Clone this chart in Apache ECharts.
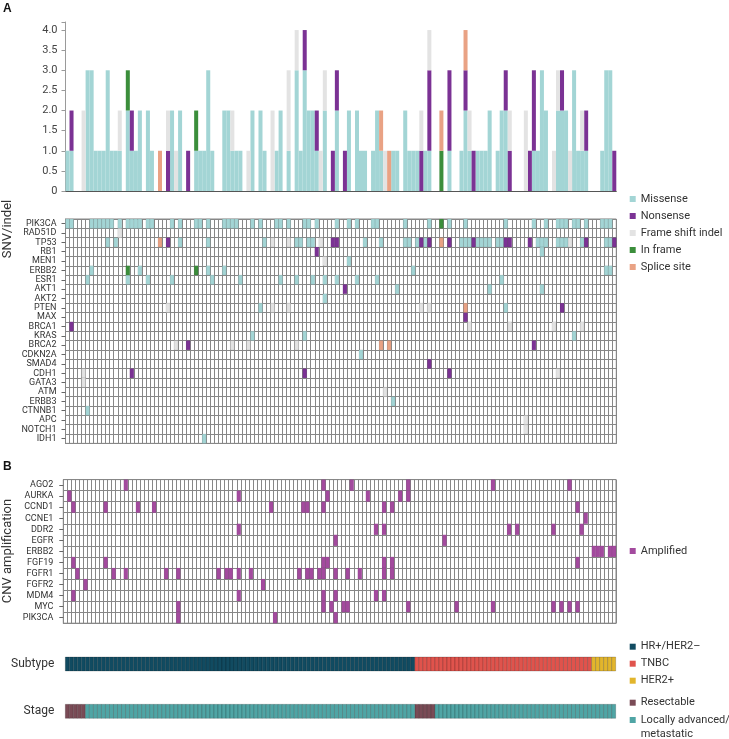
<!DOCTYPE html>
<html>
<head>
<meta charset="utf-8">
<script src="https://cdn.jsdelivr.net/npm/echarts@6.0.0/dist/echarts.min.js"></script>
<style>
html,body{margin:0;padding:0;background:#fff;}
#chart{width:729px;height:739px;}
</style>
</head>
<body>
<div id="chart"></div>
<script>
// ================= DATA =================
const sampleCount = 137;
const samples = Array.from({length: sampleCount}, (_, i) => 'P' + String(i + 1).padStart(3, '0'));

const mutTypes = ['Missense', 'Nonsense', 'Frame shift indel', 'In frame', 'Splice site'];
const mutCodes = ['M', 'N', 'F', 'I', 'S'];

const snvGenes = ['PIK3CA','RAD51D','TP53','RB1','MEN1','ERBB2','ESR1','AKT1','AKT2','PTEN','MAX','BRCA1',
  'KRAS','BRCA2','CDKN2A','SMAD4','CDH1','GATA3','ATM','ERBB3','CTNNB1','APC','NOTCH1','IDH1'];

// SNV/indel calls: sample column indices per mutation type
// M = Missense, N = Nonsense, F = Frame shift indel, I = In frame, S = Splice site
const snvPIK3CA = {M: [0,1,6,7,8,9,10,11,13,15,16,17,18,20,21,26,28,32,33,35,39,40,41,42,46,48,52,53,55,59,60,62,67,70,72,76,77,84,90,95,99,109,116,119,122,123,124,126,127,129,133,134,135], I: [93]};
const snvRAD51D = {F: [13]};
const snvTP53 = {M: [10,12,28,35,49,57,58,60,61,74,78,84,85,87,89,98,99,100,102,103,104,105,107,108,117,118,119,122,123,124,128,134,135],
                 N: [25,66,67,88,90,95,101,109,110,115,129,136], F: [51,55,63,125], S: [23,93]};
const snvRB1 = {N: [62], M: [118]};
const snvMEN1 = {F: [64], M: [70]};
const snvERBB2 = {M: [6,18,35,39,86,134,135], I: [15,32]};
const snvESR1 = {M: [5,15,20,26,36,43,53,57,61,64,67,72,77,108]};
const snvAKT1 = {N: [69], M: [82,105,118]};
const snvAKT2 = {M: [64]};
const snvPTEN = {F: [25,51,55,88,90], M: [48,109], S: [99], N: [123]};
const snvMAX = {N: [99]};
const snvBRCA1 = {N: [1], F: [100,110,121,128]};
const snvKRAS = {M: [46,59,126]};
const snvBRCA2 = {F: [27,41,45,57], N: [30,116], S: [78,80]};
const snvCDKN2A = {M: [73]};
const snvSMAD4 = {N: [90]};
const snvCDH1 = {F: [4,122], N: [16,59,95]};
const snvGATA3 = {F: [4]};
const snvATM = {F: [79]};
const snvERBB3 = {M: [81]};
const snvCTNNB1 = {M: [5]};
const snvAPC = {F: [114]};
const snvNOTCH1 = {F: [114]};
const snvIDH1 = {M: [34]};
const snvByGene = [snvPIK3CA, snvRAD51D, snvTP53, snvRB1, snvMEN1, snvERBB2, snvESR1, snvAKT1, snvAKT2, snvPTEN,
  snvMAX, snvBRCA1, snvKRAS, snvBRCA2, snvCDKN2A, snvSMAD4, snvCDH1, snvGATA3, snvATM, snvERBB3, snvCTNNB1,
  snvAPC, snvNOTCH1, snvIDH1];
// extra variants counted in the top bar chart beyond the genes listed in the grid
const barExtraMissense = [5, 6, 10, 40, 57, 59, 126];
const barExtraNonsense = [116];

const cnvGenes = ['AGO2','AURKA','CCND1','CCNE1','DDR2','EGFR','ERBB2','FGF19','FGFR1','FGFR2','MDM4','MYC','PIK3CA'];
// CNV amplification: sample column indices
const ampAGO2 = [15,64,71,85,106,125];
const ampAURKA = [1,43,65,75,83,85];
const ampCCND1 = [2,10,18,22,51,59,60,64,79,81,127];
const ampCCNE1 = [129];
const ampDDR2 = [43,77,79,110,112,121,128];
const ampEGFR = [67,94];
const ampERBB2 = [131,132,133,135,136];
const ampFGF19 = [2,10,64,65,79,81,127];
const ampFGFR1 = [3,12,15,25,28,38,40,41,43,46,58,60,61,63,64,67,70,73,79,81];
const ampFGFR2 = [5,49];
const ampMDM4 = [2,43,64,67,77,79];
const ampMYC = [28,64,66,69,70,85,97,106,121,123,125,127];
const ampPIK3CA = [28,52,67];
const ampByGene = [ampAGO2, ampAURKA, ampCCND1, ampCCNE1, ampDDR2, ampEGFR, ampERBB2, ampFGF19, ampFGFR1,
  ampFGFR2, ampMDM4, ampMYC, ampPIK3CA];

const subtypeNames = ['HR+/HER2\u2013', 'TNBC', 'HER2+'];
const subtypeRuns = [[0, 87], [1, 44], [2, 6]];          // [subtype index, number of samples]
const stageNames = ['Resectable', 'Locally advanced/metastatic'];
const stageRuns = [[0, 5], [1, 82], [0, 5], [1, 45]];    // [stage index, number of samples]

// ================= STYLE =================
const mutColors = ['#a3d5d5', '#7b3294', '#e3e3e3', '#3b8e3b', '#e9a284'];
const ampColor = '#a34a9e';
const subtypeColors = ['#114b61', '#e0534c', '#e2b52c'];
const stageColors = ['#7a4b56', '#4fa5a5'];
const FONT = 'Roboto';
const gridLine = '#878787';

// ================= BUILD =================
const snvCells = mutTypes.map(() => []);
const barCounts = mutTypes.map(() => new Array(sampleCount).fill(0));
snvByGene.forEach((g, gi) => {
  mutCodes.forEach((code, t) => {
    (g[code] || []).forEach(col => {
      snvCells[t].push([col, gi]);
      barCounts[t][col] += 1;
    });
  });
});
barExtraMissense.forEach(col => { barCounts[0][col] += 1; });
barExtraNonsense.forEach(col => { barCounts[1][col] += 1; });

const ampCells = [];
ampByGene.forEach((cols, gi) => cols.forEach(col => ampCells.push([col, gi])));

const subtypeCells = subtypeNames.map(() => []);
let pos = 0;
subtypeRuns.forEach(([k, n]) => { for (let j = 0; j < n; j++) subtypeCells[k].push([pos++, 0]); });
const stageCells = stageNames.map(() => []);
pos = 0;
stageRuns.forEach(([k, n]) => { for (let j = 0; j < n; j++) stageCells[k].push([pos++, 0]); });

function cellRenderer(stroke, lw) {
  return function (params, api) {
    const c = api.coord([api.value(0), api.value(1)]);
    const s = api.size([1, 1]);
    return {
      type: 'rect',
      shape: {x: c[0] - s[0] / 2, y: c[1] - s[1] / 2, width: s[0], height: s[1]},
      style: {fill: api.visual('color'), stroke: stroke, lineWidth: lw}
    };
  };
}

const series = [];
mutTypes.forEach((name, t) => {
  series.push({
    type: 'bar', name, xAxisIndex: 0, yAxisIndex: 0, stack: 'snv',
    data: barCounts[t], barCategoryGap: '0%', barGap: '0%',
    itemStyle: {color: mutColors[t]}, silent: true
  });
});
mutTypes.forEach((name, t) => {
  series.push({
    type: 'custom', name, xAxisIndex: 1, yAxisIndex: 1, data: snvCells[t],
    encode: {x: 0, y: 1}, itemStyle: {color: mutColors[t]},
    renderItem: cellRenderer('rgba(0,0,0,0.14)', 0.5), silent: true
  });
});
series.push({
  type: 'custom', name: 'Amplified', xAxisIndex: 2, yAxisIndex: 2, data: ampCells,
  encode: {x: 0, y: 1}, itemStyle: {color: ampColor},
  renderItem: cellRenderer('rgba(0,0,0,0.12)', 0.5), silent: true
});
subtypeNames.forEach((name, k) => {
  series.push({
    type: 'custom', name, xAxisIndex: 3, yAxisIndex: 3, data: subtypeCells[k],
    encode: {x: 0, y: 1}, itemStyle: {color: subtypeColors[k]},
    renderItem: cellRenderer('rgba(0,0,0,0.3)', 0.6), silent: true
  });
});
stageNames.forEach((name, k) => {
  series.push({
    type: 'custom', name, xAxisIndex: 4, yAxisIndex: 4, data: stageCells[k],
    encode: {x: 0, y: 1}, itemStyle: {color: stageColors[k]},
    renderItem: cellRenderer('rgba(0,0,0,0.3)', 0.6), silent: true
  });
});

const geneAxisCommon = (data, margin) => ({
  type: 'category', data, inverse: true,
  axisLabel: {interval: 0, fontSize: 9, color: '#333', fontFamily: FONT, margin},
  axisTick: {show: true, alignWithLabel: true, interval: 0, length: 4, lineStyle: {color: '#666'}},
  axisLine: {show: true, lineStyle: {color: gridLine}},
  splitLine: {show: true, interval: 0, lineStyle: {color: gridLine, width: 1}}
});
const sampleAxisGrid = (gi) => ({
  gridIndex: gi, type: 'category', data: samples,
  axisLabel: {show: false}, axisTick: {show: false},
  axisLine: {show: true, lineStyle: {color: gridLine}},
  splitLine: {show: true, interval: 0, lineStyle: {color: gridLine, width: 1}}
});

const legendCommon = {
  orient: 'vertical', left: 629.7, padding: 0, itemWidth: 6, itemHeight: 6, itemGap: 6,
  icon: 'rect', selectedMode: false,
  textStyle: {fontSize: 11, color: '#333', fontFamily: FONT, lineHeight: 11}
};

const option = {
  animation: false,
  backgroundColor: '#fff',
  grid: [
    {left: 65.5, top: 22, width: 550.8, height: 169},
    {left: 65.5, top: 219, width: 550.8, height: 224.4, show: true, borderColor: gridLine, borderWidth: 1},
    {left: 63.3, top: 479.6, width: 552.7, height: 143.6, show: true, borderColor: gridLine, borderWidth: 1},
    {left: 65.3, top: 657, width: 550.4, height: 14},
    {left: 65.3, top: 704.3, width: 550.4, height: 14}
  ],
  xAxis: [
    {gridIndex: 0, type: 'category', data: samples, axisLabel: {show: false}, axisTick: {show: false},
     axisLine: {show: true, lineStyle: {color: '#555'}}, splitLine: {show: false}},
    sampleAxisGrid(1),
    sampleAxisGrid(2),
    {gridIndex: 3, type: 'category', data: samples, show: false},
    {gridIndex: 4, type: 'category', data: samples, show: false}
  ],
  yAxis: [
    {gridIndex: 0, type: 'value', min: 0, max: 4.2, interval: 0.5,
     axisLine: {show: true, lineStyle: {color: '#9a9a9a'}},
     axisTick: {show: true, length: 4, lineStyle: {color: '#9a9a9a'}},
     splitLine: {show: false},
     axisLabel: {fontSize: 11, color: '#444', fontFamily: FONT, margin: 8,
       formatter: v => (Math.abs(v * 2 - Math.round(v * 2)) > 1e-6) ? '' : (v === 0 ? '0' : v.toFixed(1))}},
    Object.assign({gridIndex: 1}, geneAxisCommon(snvGenes, 9)),
    Object.assign({gridIndex: 2}, geneAxisCommon(cnvGenes, 10)),
    {gridIndex: 3, type: 'category', data: ['Subtype'], axisLine: {show: false}, axisTick: {show: false},
     axisLabel: {fontSize: 12, color: '#333', fontFamily: FONT, margin: 11}, splitLine: {show: false}},
    {gridIndex: 4, type: 'category', data: ['Stage'], axisLine: {show: false}, axisTick: {show: false},
     axisLabel: {fontSize: 12, color: '#333', fontFamily: FONT, margin: 11}, splitLine: {show: false}}
  ],
  legend: [
    Object.assign({}, legendCommon, {data: mutTypes, top: 193.5}),
    Object.assign({}, legendCommon, {data: ['Amplified'], top: 545.5}),
    Object.assign({}, legendCommon, {data: subtypeNames, top: 641.2}),
    Object.assign({}, legendCommon, {data: ['Resectable'], top: 697.2}),
    Object.assign({}, legendCommon, {data: ['Locally advanced/metastatic'], top: 699,
      formatter: () => ' \nLocally advanced/\nmetastatic',
      textStyle: {fontSize: 11, color: '#333', fontFamily: FONT, lineHeight: 14}})
  ],
  graphic: [
    {type: 'text', left: 3, top: 3, style: {text: 'A', font: 'bold 12px "Liberation Sans", Arial', fill: '#111'}},
    {type: 'text', left: 3, top: 461, style: {text: 'B', font: 'bold 12px "Liberation Sans", Arial', fill: '#111'}},
    {type: 'text', x: 8, y: 229, rotation: Math.PI / 2,
     style: {text: 'SNV/indel', font: '13px Roboto', fill: '#333', align: 'center', verticalAlign: 'middle'}},
    {type: 'text', x: 8, y: 551, rotation: Math.PI / 2,
     style: {text: 'CNV amplification', font: '13px Roboto', fill: '#333', align: 'center', verticalAlign: 'middle'}}
  ],
  series
};

const chart = echarts.init(document.getElementById('chart'), null, {renderer: 'canvas'});
chart.setOption(option);
</script>
</body>
</html>
